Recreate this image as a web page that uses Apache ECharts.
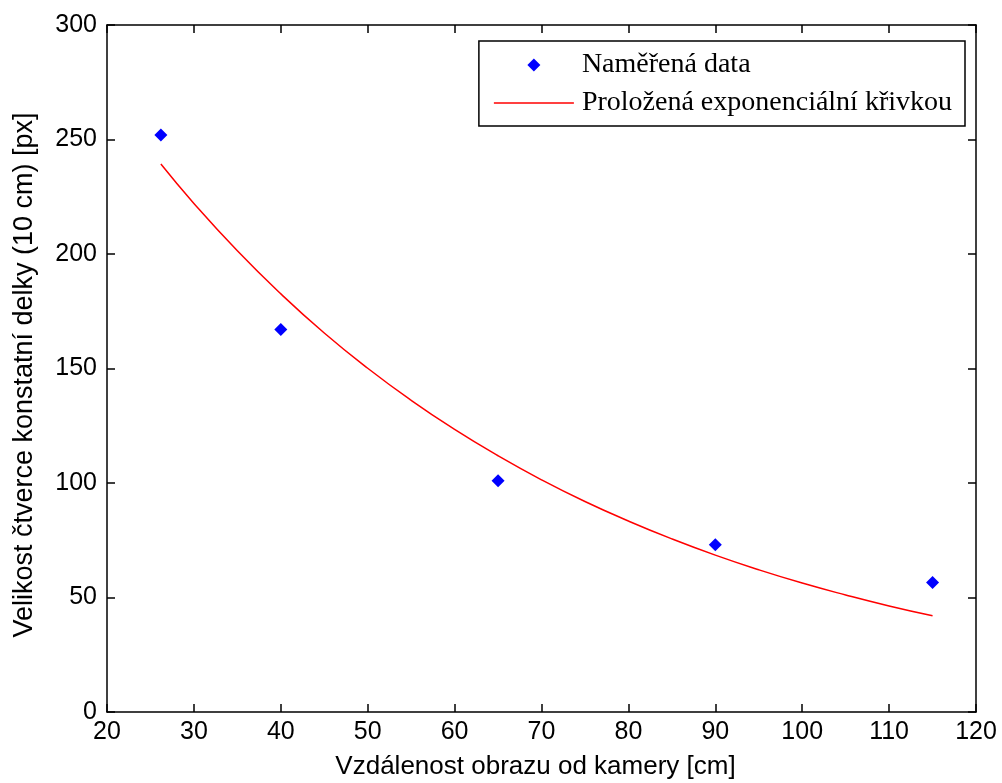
<!DOCTYPE html>
<html><head><meta charset="utf-8">
<script src="https://cdn.jsdelivr.net/npm/echarts@6/dist/echarts.min.js"></script>
<style>html,body{margin:0;padding:0;background:#fff}#c{width:1002px;height:783px}</style>
</head><body><div id="c"></div>
<script>
const measuredX = [26.2, 40, 65, 90, 115];
const measuredY = [252, 167, 101, 73, 56.5];
const fitX = [26.2, 30, 35, 40, 45, 50, 55, 60, 65, 70, 75, 80, 85, 90, 95, 100, 105, 110, 115];
const fitY = [239.3, 222.1, 201.4, 182.6, 165.5, 150.1, 136.1, 123.4, 111.9, 101.4, 91.9, 83.4, 75.6, 68.5, 62.1, 56.3, 51.1, 46.3, 42.0];
const seriesNames = ['Naměřená data', 'Proložená exponenciální křivkou'];
const xTitle = 'Vzdálenost obrazu od kamery [cm]';
const yTitle = 'Velikost čtverce konstatní delky (10 cm) [px]';

const chart = echarts.init(document.getElementById('c'), null, {renderer: 'canvas'});
function tickFont(m) { return {fontFamily: "'Liberation Sans', Arial, sans-serif", fontSize: 25, color: '#000', margin: m}; }
function axisLine() { return {show: true, onZero: false, lineStyle: {color: '#000', width: 1.5}}; }
function axisTick() { return {show: true, inside: true, length: 8, lineStyle: {color: '#000', width: 1.5}}; }
chart.setOption({
  animation: false,
  backgroundColor: '#fff',
  grid: {left: 107, top: 25, right: 26, bottom: 71, containLabel: false, outerBoundsMode: 'none'},
  legend: {
    orient: 'vertical', right: 37, top: 41,
    backgroundColor: '#fff', borderColor: '#000', borderWidth: 1.5,
    padding: [10, 13, 9, 15], itemGap: 10,
    itemWidth: 80, itemHeight: 13, symbolKeepAspect: true,
    textStyle: {fontFamily: "'Liberation Serif', 'Times New Roman', serif", fontSize: 28, color: '#000', padding: [0, 0, 0, 3]},
    data: [
      {name: seriesNames[0], icon: 'path://M5,0 L10,5 L5,10 L0,5 Z', itemStyle: {color: '#0000ff', opacity: 1}},
      {name: seriesNames[1], icon: 'path://M0,0 L80,0 L80,1.5 L0,1.5 Z', itemStyle: {color: '#ff0000'}}
    ]
  },
  xAxis: [{
    type: 'value', min: 20, max: 120, interval: 10,
    name: xTitle, nameLocation: 'middle', nameGap: 42,
    nameTextStyle: {fontFamily: "'Liberation Sans', Arial, sans-serif", fontSize: 26, color: '#000', padding: [0, 12, 0, 0]},
    axisLine: axisLine(), axisTick: axisTick(), axisLabel: tickFont(8), splitLine: {show: false}
  }, {
    type: 'value', position: 'top', min: 20, max: 120, interval: 10,
    axisLine: axisLine(), axisTick: axisTick(), axisLabel: {show: false}, splitLine: {show: false}
  }],
  yAxis: [{
    type: 'value', min: 0, max: 300, interval: 50,
    name: yTitle, nameLocation: 'middle', nameGap: 69,
    nameTextStyle: {fontFamily: "'Liberation Sans', Arial, sans-serif", fontSize: 27, color: '#000', padding: [0, 13, 0, 0]},
    axisLine: axisLine(), axisTick: axisTick(), axisLabel: tickFont(10), splitLine: {show: false}
  }, {
    type: 'value', position: 'right', min: 0, max: 300, interval: 50,
    axisLine: axisLine(), axisTick: axisTick(), axisLabel: {show: false}, splitLine: {show: false}
  }],
  series: [{
    name: seriesNames[0], type: 'scatter', symbol: 'diamond', symbolSize: 13,
    itemStyle: {color: '#0000ff', opacity: 1},
    data: measuredX.map((x, i) => [x, measuredY[i]]), z: 3
  }, {
    name: seriesNames[1], type: 'line', smooth: true, showSymbol: false, symbol: 'none',
    lineStyle: {color: '#ff0000', width: 1.5}, itemStyle: {color: '#ff0000'},
    data: fitX.map((x, i) => [x, fitY[i]]), z: 2
  }]
});
</script></body></html>
